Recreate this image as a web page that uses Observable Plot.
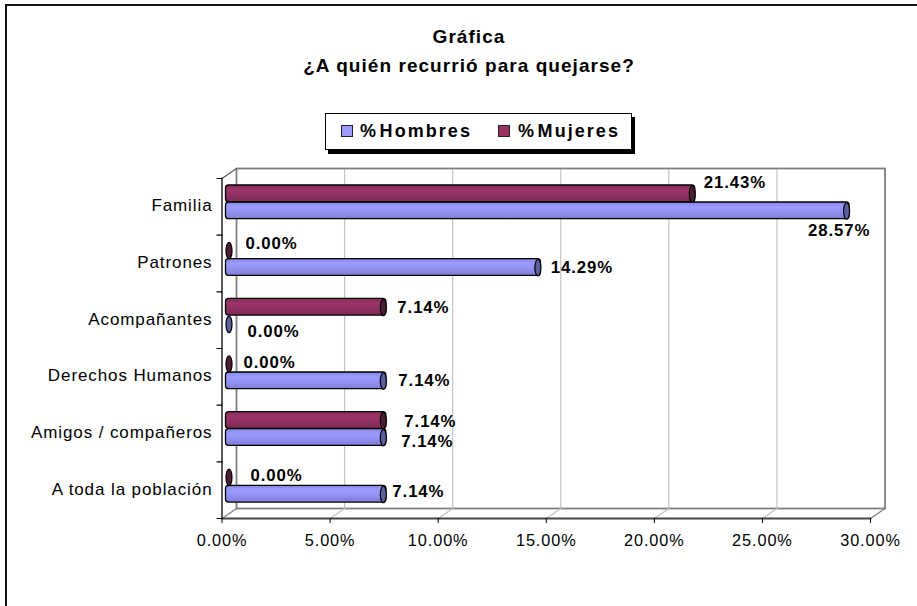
<!DOCTYPE html>
<html><head><meta charset="utf-8">
<script src="https://cdn.jsdelivr.net/npm/d3@7"></script>
<script src="https://cdn.jsdelivr.net/npm/@observablehq/plot@0.6"></script>
<style>
html,body{margin:0;padding:0;background:#fff;width:917px;height:606px;overflow:hidden}
body{font-family:"Liberation Sans",Arial,sans-serif;color:#000}
#page{position:relative;width:917px;height:606px}
#edge{position:absolute;left:5px;top:4px;right:0;bottom:0;border-top:2px solid #111;border-left:2px solid #111}
#title{position:absolute;left:0;width:938px;top:22px;text-align:center;font-weight:bold;font-size:19px;line-height:29px;letter-spacing:1.05px}
#legend{position:absolute;left:325px;top:113px;width:305px;height:35px;box-sizing:content-box;border:1px solid #000;background:#fff;box-shadow:3px 4px 0 #000;font-weight:bold;font-size:18px}
#legend span{position:absolute;top:7px;letter-spacing:2.05px;word-spacing:-5.5px;white-space:nowrap}
#legend i{position:absolute;top:11px;width:10px;height:10px;border:1px solid #222}
#chart{position:absolute;left:0;top:155px}
#chart svg{overflow:visible;background:transparent}
</style></head>
<body><div id="page">
<div id="edge"></div>
<div id="title">Gráfica<br>¿A quién recurrió para quejarse?</div>
<div id="legend"></div>
<div id="chart"></div>
</div>
<script>
const categories = ["Familia","Patrones","Acompañantes","Derechos Humanos","Amigos / compañeros","A toda la población"];
const hombres = [28.57,14.29,0,7.14,7.14,7.14];
const mujeres = [21.43,0,7.14,0,7.14,0];
const xTicks = [0,5,10,15,20,25,30];
const seriesNames = ["% Hombres","% Mujeres"];

// Layout of the value labels, as pixel nudges from each bar's end
const nudgeH = [[-31.6,24],[19.8,4],[25.5,11],[22,4],[25,8],[16,1]];
const nudgeM = [[18.6,-24],[23.5,-20],[21,-13],[21.5,-14],[28,-12],[28.5,-15]];

const rowsH = categories.map((c,i)=>({c,v:hombres[i],n:nudgeH[i]}));
const rowsM = categories.map((c,i)=>({c,v:mujeres[i],n:nudgeM[i]}));
const pct = d=>d.toFixed(2)+"%";

const HALF = 340/6/2, DX = 14.5, DY = -10, DEPTH = Math.hypot(DX,DY), ANG = Math.atan2(DX,-DY)*180/Math.PI;
const line = {draw(ctx,l){ctx.moveTo(0,0);ctx.lineTo(0,-l);}};
function ellipse(rx,ry){const k=.5523;return {draw(ctx){
  ctx.moveTo(rx,0);
  ctx.bezierCurveTo(rx,ry*k,rx*k,ry,0,ry);
  ctx.bezierCurveTo(-rx*k,ry,-rx,ry*k,-rx,0);
  ctx.bezierCurveTo(-rx,-ry*k,-rx*k,-ry,0,-ry);
  ctx.bezierCurveTo(rx*k,-ry,rx,-ry*k,rx,0);ctx.closePath();}};}
const cap = ellipse(3,8.3);

const defs = () => d3.create("svg:defs").html(`
<linearGradient id="gH" x1="0" x2="0" y1="0" y2="1">
<stop offset="0" stop-color="#8787e2"/><stop offset=".3" stop-color="#9c9cff"/><stop offset=".55" stop-color="#9393f4"/><stop offset="1" stop-color="#7e7ed4"/></linearGradient>
<linearGradient id="gM" x1="0" x2="0" y1="0" y2="1">
<stop offset="0" stop-color="#872e5a"/><stop offset=".3" stop-color="#9c3468"/><stop offset=".55" stop-color="#933162"/><stop offset="1" stop-color="#7c2a53"/></linearGradient>`).node();

function barMarks(rows,grad,capFill,top,dotDy){
  const on = rows.filter(d=>d.v>0);
  return [
    Plot.barX(on,{x1:0,x2:"v",y:"c",dx:7,rx:3,fill:grad,stroke:"#000",strokeWidth:1.3,
      insetTop:top,insetBottom:2*HALF-top-16.7,insetLeft:-3,insetRight:-3}),
    Plot.dot(rows,{x:"v",y:"c",dx:7,dy:dotDy,symbol:cap,fill:capFill,stroke:"#000",strokeWidth:1.2})
  ];
}
function labelMarks(rows){
  return rows.map(d=>Plot.text([d],{x:"v",y:"c",text:r=>pct(r.v),dx:d.n[0],dy:d.n[1],textAnchor:"start",
    fontWeight:"bold",fontSize:16.8,fill:"#000"}));
}

const plot = Plot.plot({
  width:917,height:451,marginLeft:221.5,marginRight:47,marginTop:23,marginBottom:88,
  style:{fontFamily:"'Liberation Sans',Arial,sans-serif",fontSize:"16px",letterSpacing:"0.9px",color:"#000",background:"transparent"},
  x:{domain:[0,30]},
  y:{type:"band",domain:categories,padding:0,round:false,label:null},
  marks:[
    defs,
    Plot.ruleX(xTicks.slice(1,-1),{x:d=>d,dx:DX,dy:DY,stroke:"#c4c4c4",strokeWidth:1.2}),
    Plot.frame({dx:DX,dy:DY,stroke:"#808080",strokeWidth:1.8}),
    Plot.vector(xTicks,{x:d=>d,frameAnchor:"bottom",length:DEPTH,rotate:ANG,anchor:"start",shape:line,
      stroke:d=>(d===0||d===30)?"#808080":"#c4c4c4",strokeWidth:1.3}),
    Plot.vector([0],{x:d=>d,frameAnchor:"top",length:DEPTH,rotate:ANG,anchor:"start",shape:line,stroke:"#555",strokeWidth:1.2}),
    Plot.frame({anchor:"left",stroke:"#000",strokeWidth:1.3}),
    Plot.frame({anchor:"bottom",stroke:"#444",strokeWidth:1.8}),
    Plot.vector(categories,{y:d=>d,frameAnchor:"left",dy:-HALF,length:5,rotate:-90,anchor:"start",shape:line,stroke:"#000",strokeWidth:1.2}),
    Plot.vector(categories.slice(-1),{y:d=>d,frameAnchor:"left",dy:HALF,length:5,rotate:-90,anchor:"start",shape:line,stroke:"#000",strokeWidth:1.2}),
    Plot.axisX({ticks:xTicks,tickFormat:pct,tickSize:5,tickPadding:11,label:null,fill:"#000",stroke:"#000",fontSize:16.3}),
    Plot.axisY({tickSize:0,tickPadding:9.5,label:null,fill:"#000",fontSize:17,dy:-1}),
    ...barMarks(rowsH,"url(#gH)","#5b5f9e",24,4.2),
    ...barMarks(rowsM,"url(#gM)","#4f1b36",7,-12.8),
    ...labelMarks(rowsH),
    ...labelMarks(rowsM)
  ]
});
document.getElementById("chart").append(plot);

const legend = document.getElementById("legend");
[[15,34,"#9999ff"],[172,192,"#993366"]].forEach(([sx,tx,color],i)=>{
  const sw=document.createElement("i");sw.style.left=sx+"px";sw.style.background=color;legend.append(sw);
  const t=document.createElement("span");t.style.left=tx+"px";t.textContent=seriesNames[i];legend.append(t);
});
</script>
</body></html>
